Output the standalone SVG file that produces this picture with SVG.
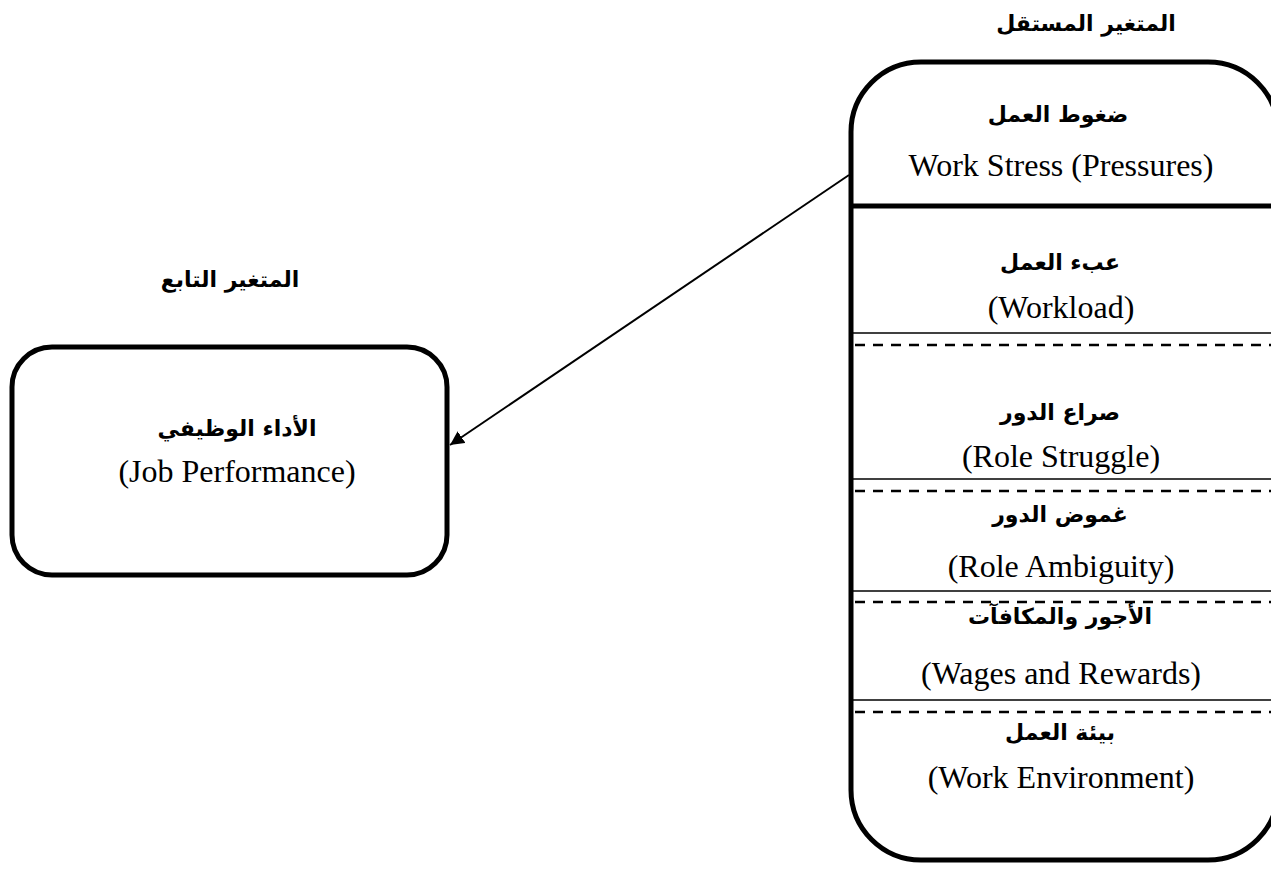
<svg xmlns="http://www.w3.org/2000/svg" width="1271" height="869" viewBox="0 0 1271 869">
  <style>
    .box { fill: #ffffff; stroke: #000000; stroke-width: 5; }
    .thick { stroke: #000000; stroke-width: 5; }
    .thin { stroke: #000000; stroke-width: 1.5; }
    .dash { stroke: #000000; stroke-width: 2.5; stroke-dasharray: 10 8; }
    .ar { font-family: "DejaVu Sans", "Noto Sans", sans-serif; font-weight: bold; font-size: 22px; fill: #000; text-anchor: middle; }
    .en { font-family: "Liberation Serif", "Times New Roman", serif; font-size: 32px; fill: #000; text-anchor: middle; }
    .conn { stroke: #000000; stroke-width: 2; fill: none; }
  </style>
  <defs>
    <marker id="arrow" viewBox="0 0 10 10" refX="10" refY="5" markerWidth="7" markerHeight="7" markerUnits="strokeWidth" orient="auto">
      <path d="M0,0 L10,5 L0,10 z" fill="#000"/>
    </marker>
  </defs>
  <rect width="1271" height="869" fill="#ffffff"/>

  <g id="label-independent">
    <text class="ar" x="1086" y="31">المتغير المستقل</text>
  </g>
  <g id="label-dependent">
    <text class="ar" x="230" y="287">المتغير التابع</text>
  </g>

  <g id="node-independent">
    <rect class="box" x="851" y="62" width="427" height="798" rx="70" ry="70"/>
    <line class="thick" x1="851" y1="206" x2="1271" y2="206"/>
    <line class="thin" x1="853" y1="333" x2="1271" y2="333"/>
    <line class="dash" x1="855" y1="345" x2="1271" y2="345"/>
    <line class="thin" x1="853" y1="479" x2="1271" y2="479"/>
    <line class="dash" x1="855" y1="491" x2="1271" y2="491"/>
    <line class="thin" x1="853" y1="591" x2="1271" y2="591"/>
    <line class="dash" x1="855" y1="602" x2="1271" y2="602"/>
    <line class="thin" x1="853" y1="700" x2="1271" y2="700"/>
    <line class="dash" x1="855" y1="712" x2="1271" y2="712"/>
  </g>
  <g id="item-stress">
    <text class="ar" x="1058" y="122">ضغوط العمل</text>
    <text class="en" x="1061" y="176">Work Stress (Pressures)</text>
  </g>
  <g id="item-workload">
    <text class="ar" x="1060" y="270">عبء العمل</text>
    <text class="en" x="1061" y="318">(Workload)</text>
  </g>
  <g id="item-struggle">
    <text class="ar" x="1060" y="420">صراع الدور</text>
    <text class="en" x="1061" y="467">(Role Struggle)</text>
  </g>
  <g id="item-ambiguity">
    <text class="ar" x="1060" y="522">غموض الدور</text>
    <text class="en" x="1061" y="577">(Role Ambiguity)</text>
  </g>
  <g id="item-wages">
    <text class="ar" x="1060" y="624">الأجور والمكافآت</text>
    <text class="en" x="1061" y="684">(Wages and Rewards)</text>
  </g>
  <g id="item-environment">
    <text class="ar" x="1060" y="740">بيئة العمل</text>
    <text class="en" x="1061" y="788">(Work Environment)</text>
  </g>

  <g id="node-dependent">
    <rect class="box" x="12" y="347" width="435" height="228" rx="40" ry="40"/>
    <text class="ar" x="237" y="436">الأداء الوظيفي</text>
    <text class="en" x="237" y="482">(Job Performance)</text>
  </g>

  <g id="connectors">
    <line class="conn" x1="849" y1="175" x2="450" y2="445" marker-end="url(#arrow)"/>
  </g>
</svg>
